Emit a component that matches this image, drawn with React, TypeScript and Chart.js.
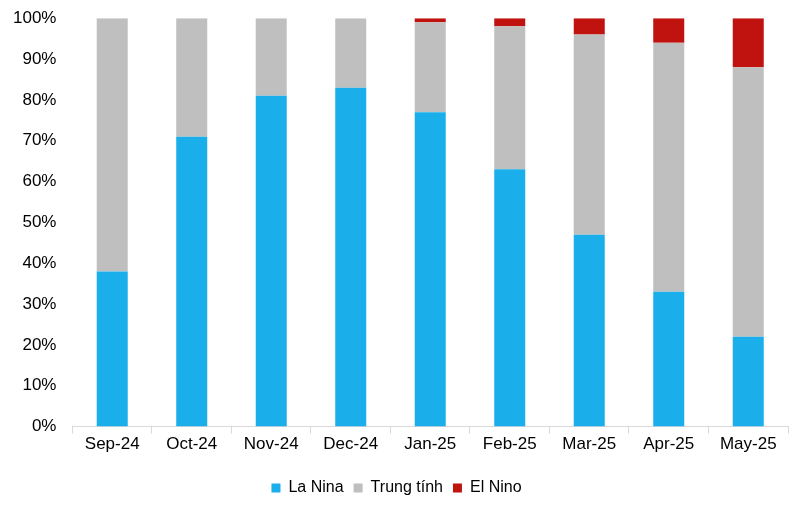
import React, { useEffect, useRef } from "react";
import { Chart, registerables } from "chart.js";

Chart.register(...registerables);

const categories = ["Sep-24", "Oct-24", "Nov-24", "Dec-24", "Jan-25", "Feb-25", "Mar-25", "Apr-25", "May-25"];
const laNina = [38, 71, 81, 83, 77, 63, 47, 33, 22];
const trungTinh = [62, 29, 19, 17, 22, 35, 49, 61, 66];
const elNino = [0, 0, 0, 0, 1, 2, 4, 6, 12];
const yTicks = [0, 10, 20, 30, 40, 50, 60, 70, 80, 90, 100];

export default function App() {
  const ref = useRef<HTMLCanvasElement>(null);
  useEffect(() => {
    document.body.style.margin = "0";
    const font = { family: "Liberation Sans, Arial, sans-serif", size: 17 };
    const chart = new Chart(ref.current!, {
      type: "bar",
      data: {
        labels: categories,
        datasets: [
          { label: "La Nina", data: laNina, backgroundColor: "#1AAFEB", barPercentage: 0.39, categoryPercentage: 1 },
          { label: "Trung tính", data: trungTinh, backgroundColor: "#BFBFBF", barPercentage: 0.39, categoryPercentage: 1 },
          { label: "El Nino", data: elNino, backgroundColor: "#C0120F", barPercentage: 0.39, categoryPercentage: 1 },
        ],
      },
      options: {
        animation: false,
        responsive: false,
        maintainAspectRatio: false,
        layout: { padding: { left: 5, right: 10, top: 0, bottom: 3 } },
        plugins: {
          tooltip: { enabled: false },
          legend: {
            position: "bottom",
            labels: {
              boxWidth: 9,
              boxHeight: 9,
              padding: 10,
              color: "#000",
              font: { family: "Liberation Sans, Arial, sans-serif", size: 16 },
            },
          },
        },
        scales: {
          x: {
            stacked: true,
            afterFit: (s: any) => {
              s.height += 14;
            },
            grid: { display: true, drawOnChartArea: false, drawTicks: true, tickLength: 7, color: "#D9D9D9", offset: true },
            border: { display: true, color: "#D9D9D9" },
            ticks: { color: "#000", font, padding: 1, maxRotation: 0 },
          },
          y: {
            stacked: true,
            min: 0,
            max: 100,
            afterBuildTicks: (s: any) => {
              s.ticks = yTicks.map((v) => ({ value: v }));
            },
            grid: { display: false },
            border: { display: false },
            ticks: { color: "#000", font, padding: 8, callback: (v: any) => v + "%" },
          },
        },
      },
    });
    return () => chart.destroy();
  }, []);
  return (
    <div style={{ width: 798, height: 509 }}>
      <canvas ref={ref} width={798} height={509} style={{ display: "block" }} />
    </div>
  );
}
